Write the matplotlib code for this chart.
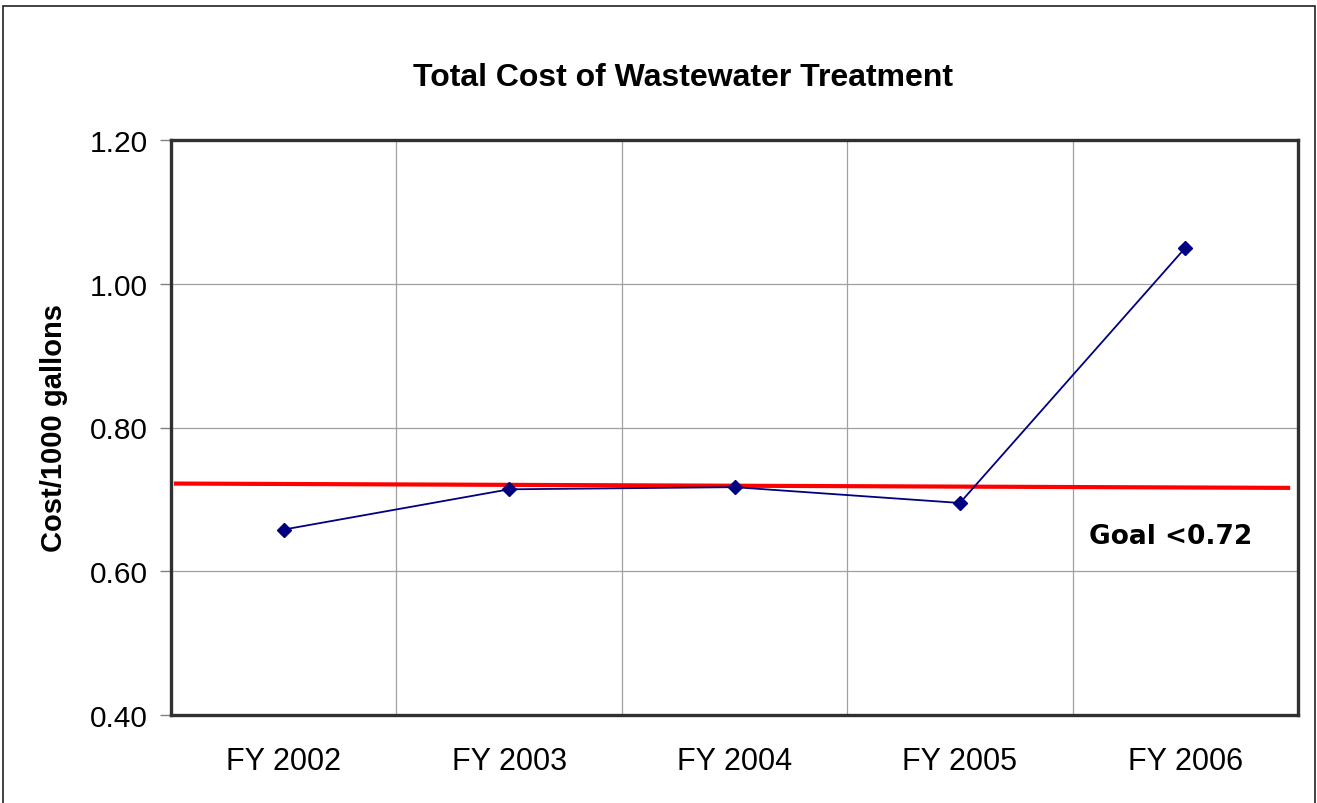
import matplotlib.pyplot as plt
from matplotlib.patches import Rectangle

years = ['FY 2002', 'FY 2003', 'FY 2004', 'FY 2005', 'FY 2006']
cost = [0.658, 0.714, 0.717, 0.695, 1.050]

# hand-drawn goal line in the original, slightly tilted
goal_x = [-0.478, 4.456]
goal_y = [0.722, 0.716]
goal_label = 'Goal <0.72'

plt.rcParams['font.family'] = ['Liberation Sans', 'DejaVu Sans']

fig = plt.figure(figsize=(13.17, 8.04), dpi=100)
ax = fig.add_axes([171/1317, 88/804, (1298-171)/1317, (716-141)/804])

# outer chart border
fig.patches.append(Rectangle((3/1317, -0.01), (1315-3)/1317, (804-7)/804 + 0.01,
                             transform=fig.transFigure, fill=False,
                             edgecolor='#222222', linewidth=1.2))

xs = range(len(years))
ax.plot(xs, cost, color='#000080', linewidth=1.3, marker='D', markersize=7.5,
        markerfacecolor='#000080', markeredgecolor='#000080', zorder=4)
ax.plot(goal_x, goal_y, color='#ff0000', linewidth=3.0, zorder=3)
ax.text(3.574, 0.649, goal_label, fontsize=19, fontweight='bold',
        family='DejaVu Sans', ha='left', va='center')

ax.set_xlim(-0.5, 4.5)
ax.set_ylim(0.40, 1.20)
ax.set_xticks(list(xs))
ax.set_xticklabels(years)
ax.set_xticks([0.5, 1.5, 2.5, 3.5], minor=True)
ax.set_yticks([0.40, 0.60, 0.80, 1.00, 1.20])
ax.set_yticklabels(['0.40', '0.60', '0.80', '1.00', '1.20'])

ax.grid(axis='y', which='major', color='#a0a0a0', linewidth=0.9)
ax.grid(axis='x', which='minor', color='#a0a0a0', linewidth=0.9)
ax.set_axisbelow(True)

ax.tick_params(axis='x', which='both', length=0, labelsize=22, pad=22)
ax.tick_params(axis='y', length=8, width=1, color='#808080', labelsize=21.5, pad=9)

for s in ax.spines.values():
    s.set_linewidth(2.4)
    s.set_color('#303030')

ax.set_ylabel('Cost/1000 gallons', fontsize=21, fontweight='bold', labelpad=15)
fig.text(683/1317, 1 - 78/804, 'Total Cost of Wastewater Treatment',
         fontsize=23, fontweight='bold', ha='center', va='center')

fig.savefig('out.png', dpi=100)
